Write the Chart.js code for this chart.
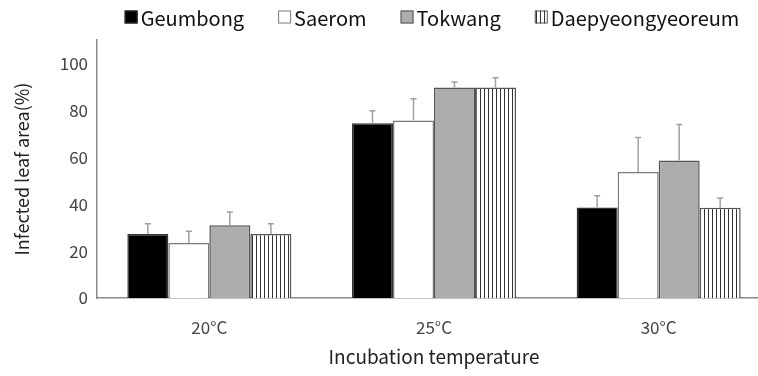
<!DOCTYPE html>
<html>
<head>
<meta charset="utf-8">
<script src="https://cdn.jsdelivr.net/npm/chart.js@4/dist/chart.umd.min.js"></script>
<style>
  html, body { margin: 0; padding: 0; background: #fff; overflow: hidden; }
  #wrap { width: 771px; height: 376px; }
</style>
</head>
<body>
<div id="wrap"><canvas id="c" width="771" height="376"></canvas></div>
<script>
const categories = ['20°C', '25°C', '30°C'];
const seriesNames = ['Geumbong', 'Saerom', 'Tokwang', 'Daepyeongyeoreum'];
const geumbong = [27.3, 74.5, 38.6];
const saerom = [23.4, 75.7, 53.7];
const tokwang = [31.0, 89.7, 58.6];
const daepyeong = [27.3, 89.7, 38.5];
const geumbongErr = [4.4, 5.3, 5.0];
const saeromErr = [5.1, 9.3, 14.7];
const tokwangErr = [5.7, 2.4, 15.4];
const daepyeongErr = [4.4, 4.2, 4.1];
const yTicks = [0, 20, 40, 60, 80, 100];

const FONT = "'Noto Sans CJK KR', 'Noto Sans', sans-serif";

function stripePattern() {
  const p = document.createElement('canvas');
  p.width = 4; p.height = 4;
  const g = p.getContext('2d');
  g.fillStyle = '#ffffff';
  g.fillRect(0, 0, 4, 4);
  g.fillStyle = '#333333';
  g.fillRect(0, 0, 1, 4);
  return document.getElementById('c').getContext('2d').createPattern(p, 'repeat');
}
const stripes = stripePattern();

const styles = [
  { bg: '#000000', border: '#333333' },
  { bg: '#ffffff', border: '#7a7a7a' },
  { bg: '#adadad', border: '#555555' },
  { bg: stripes, border: '#555555' }
];
const values = [geumbong, saerom, tokwang, daepyeong];
const errors = [geumbongErr, saeromErr, tokwangErr, daepyeongErr];

const errorBars = {
  id: 'errorBars',
  afterDatasetsDraw(chart) {
    const ctx = chart.ctx;
    const y = chart.scales.y;
    ctx.save();
    ctx.strokeStyle = '#a0a0a0';
    ctx.lineWidth = 1.5;
    chart.data.datasets.forEach((ds, di) => {
      const meta = chart.getDatasetMeta(di);
      meta.data.forEach((el, i) => {
        const top = y.getPixelForValue(ds.data[i] + ds.err[i]);
        ctx.beginPath();
        ctx.moveTo(el.x, el.y);
        ctx.lineTo(el.x, top);
        ctx.moveTo(el.x - 3, top);
        ctx.lineTo(el.x + 3, top);
        ctx.stroke();
      });
    });
    ctx.restore();
  }
};

const customLegend = {
  id: 'customLegend',
  afterDraw(chart) {
    const ctx = chart.ctx;
    ctx.save();
    ctx.font = '20px ' + FONT;
    ctx.textBaseline = 'middle';
    const box = 13, gapText = 3, gapItem = 34;
    const items = chart.data.datasets.map(ds => ({ ds, w: box + gapText + ctx.measureText(ds.label).width }));
    const total = items.reduce((a, b) => a + b.w, 0) + gapItem * (items.length - 1);
    const ca = chart.chartArea;
    let x = (ca.left + ca.right) / 2 - total / 2 - 2;
    const cy = 17;
    items.forEach(it => {
      const bx = x, by = cy - box / 2;
      ctx.fillStyle = it.ds.backgroundColor;
      ctx.fillRect(bx, by, box, box);
      ctx.strokeStyle = it.ds.borderColor;
      ctx.lineWidth = 1;
      ctx.strokeRect(bx + 0.5, by + 0.5, box - 1, box - 1);
      ctx.fillStyle = '#111111';
      ctx.fillText(it.ds.label, x + box + gapText, cy + 1);
      x += it.w + gapItem;
    });
    ctx.restore();
  }
};

new Chart(document.getElementById('c'), {
  type: 'bar',
  data: {
    labels: categories,
    datasets: seriesNames.map((name, i) => ({
      label: name,
      data: values[i],
      err: errors[i],
      backgroundColor: styles[i].bg,
      borderColor: styles[i].border,
      borderWidth: 1.5,
      borderSkipped: 'bottom',
      categoryPercentage: 0.73,
      barPercentage: 1.0
    }))
  },
  options: {
    responsive: false,
    animation: false,
    events: [],
    layout: { padding: { top: 40, left: 0, right: 0, bottom: 0 } },
    plugins: {
      legend: { display: false },
      tooltip: { enabled: false }
    },
    scales: {
      x: {
        grid: { display: false, drawTicks: false },
        border: { color: '#8a8a8a', width: 1.5 },
        ticks: { color: '#444444', font: { family: FONT, size: 17 }, padding: 19 },
        title: { display: true, text: 'Incubation temperature', color: '#222222', font: { family: FONT, size: 19 }, padding: { top: 0, bottom: 8 } },
        afterFit(s) { s.height = 78; }
      },
      y: {
        min: 0,
        max: 110,
        grid: { display: false, drawTicks: false },
        border: { color: '#8a8a8a', width: 1.5 },
        ticks: { stepSize: 20, includeBounds: false, color: '#444444', font: { family: FONT, size: 17 }, padding: 9 },
        afterBuildTicks(s) { s.ticks = yTicks.map(v => ({ value: v })); },
        title: { display: true, text: 'Infected leaf area(%)', color: '#222222', font: { family: FONT, size: 18 }, padding: { top: 11, bottom: 0 } },
        afterFit(s) { s.width = 97; }
      }
    }
  },
  plugins: [errorBars, customLegend]
});
</script>
</body>
</html>
